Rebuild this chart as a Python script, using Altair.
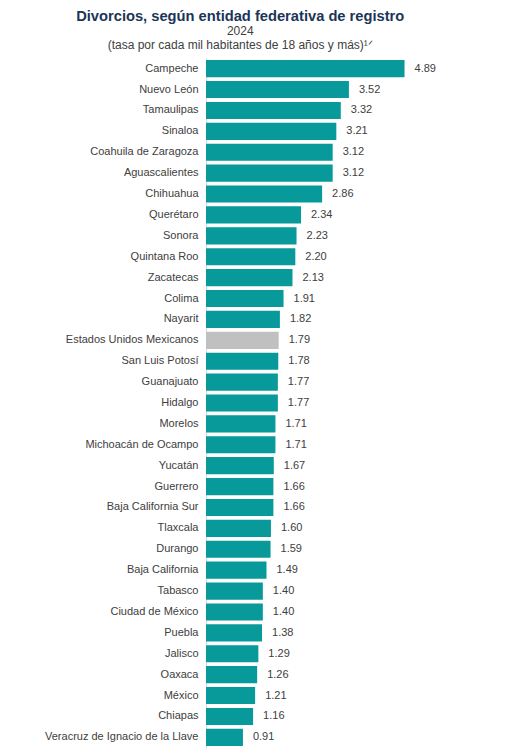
import altair as alt
import pandas as pd

entidades = [
    "Campeche", "Nuevo León", "Tamaulipas", "Sinaloa", "Coahuila de Zaragoza",
    "Aguascalientes", "Chihuahua", "Querétaro", "Sonora", "Quintana Roo",
    "Zacatecas", "Colima", "Nayarit", "Estados Unidos Mexicanos", "San Luis Potosí",
    "Guanajuato", "Hidalgo", "Morelos", "Michoacán de Ocampo", "Yucatán",
    "Guerrero", "Baja California Sur", "Tlaxcala", "Durango", "Baja California",
    "Tabasco", "Ciudad de México", "Puebla", "Jalisco", "Oaxaca",
    "México", "Chiapas", "Veracruz de Ignacio de la Llave",
]
tasas = [
    4.89, 3.52, 3.32, 3.21, 3.12,
    3.12, 2.86, 2.34, 2.23, 2.20,
    2.13, 1.91, 1.82, 1.79, 1.78,
    1.77, 1.77, 1.71, 1.71, 1.67,
    1.66, 1.66, 1.60, 1.59, 1.49,
    1.40, 1.40, 1.38, 1.29, 1.26,
    1.21, 1.16, 0.91,
]
tipo = ["Nacional" if e == "Estados Unidos Mexicanos" else "Entidad" for e in entidades]

df = pd.DataFrame({"entidad": entidades, "tasa": tasas, "tipo": tipo})
df["etiqueta"] = df["tasa"].map(lambda v: f"{v:.2f}")

FONT = "Liberation Sans"

y_enc = alt.Y("entidad:N", sort=entidades, title=None,
              scale=alt.Scale(paddingInner=0.18, paddingOuter=0.1),
              axis=alt.Axis(ticks=False, domain=True, domainColor="#d9d9d9",
                            labelFont=FONT, labelFontSize=11, labelColor="#404040",
                            labelPadding=8, labelLimit=300))
x_enc = alt.X("tasa:Q", title=None, axis=None, scale=alt.Scale(domain=[0, 5]))

bars = alt.Chart(df).mark_bar().encode(
    y=y_enc, x=x_enc,
    color=alt.Color("tipo:N", legend=None,
                    scale=alt.Scale(domain=["Entidad", "Nacional"],
                                    range=["#089a9a", "#c0c0c0"])),
)
labels = alt.Chart(df).mark_text(
    align="left", baseline="middle", dx=10, font=FONT, fontSize=11, color="#404040"
).encode(y=y_enc, x=x_enc, text="etiqueta:N")

chart = (bars + labels).properties(
    width=203, height=690,
    padding={"left": 36, "top": 1, "right": 5, "bottom": 5},
    title=alt.TitleParams(
        text="Divorcios, según entidad federativa de registro",
        subtitle=["2024", "(tasa por cada mil habitantes de 18 años y más)¹ᐟ"],
        font=FONT, fontSize=14.7, fontWeight="bold", color="#1b3558",
        subtitleFont=FONT, subtitleFontSize=12, subtitleColor="#404040",
        subtitlePadding=2, anchor="middle", frame="bounds", offset=7,
    ),
).configure_view(stroke=None)

chart.save("out.html", embed_options={"renderer": "svg", "actions": False})
